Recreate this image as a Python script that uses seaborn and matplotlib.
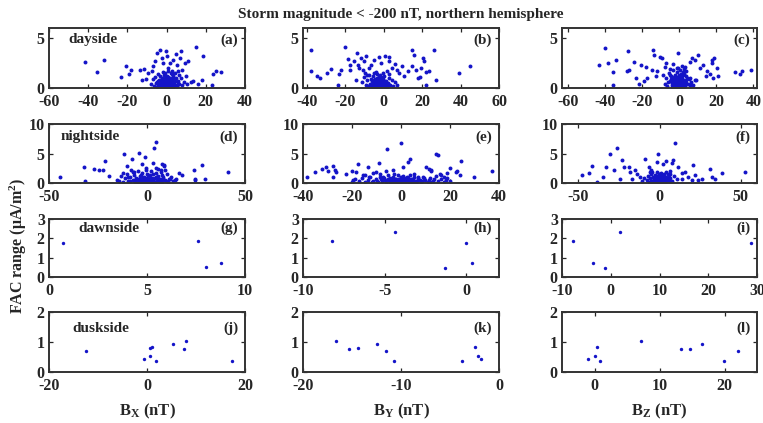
import numpy as np
import pandas as pd
import seaborn as sns
import matplotlib.pyplot as plt

# FAC range vs IMF components, storms < -200 nT, northern hemisphere
# each panel: list of (B, FAC range) points

# dayside
a_pts = [(-41.8, 2.6), (-32, 2.8), (-35.3, 1.57), (-20.5, 2.23), (-18, 1.8), (-19, 1.4), (-23.5, 1.07),
         (-13.7, 1.77), (-11.6, 1.9), (-12.8, 0.83), (-10.3, 0.9), (-9.4, 1.5), (-7.7, 1.67), (-6.8, 2.17),
         (-6, 2.67), (-5.1, 3.5), (-3.4, 3.77), (-2.6, 3.0), (-1.7, 2.5), (-0.5, 3.67), (0, 3.17), (0.8, 2.0),
         (1.7, 2.5), (2.5, 1.67), (3.4, 2.83), (4.7, 3.43), (5.4, 2.33), (6.8, 3.0), (7.6, 3.67), (5.9, 1.67),
         (8.1, 1.83), (9.3, 2.5), (11, 2.67), (9.8, 1.17), (12.7, 0.57), (15, 4.1), (18.4, 3.17), (17.9, 0.83),
         (23, 0.33), (23.8, 1.43), (25.2, 1.73), (27.7, 1.57), (13.6, 0.67), (16, 0.43),
         (-8.2, 0.4), (-7.1, 0.9), (-6.4, 0.2), (-5.8, 1.1), (-5.1, 0.6), (-4.6, 1.4), (-4.2, 0.3), (-3.7, 0.8),
         (-3.3, 1.2), (-2.9, 0.1), (-2.5, 0.5), (-2.2, 1.0), (-1.8, 0.7), (-1.5, 0.2), (-1.1, 1.3), (-0.8, 0.4),
         (-0.4, 0.9), (-0.1, 0.15), (0.3, 0.6), (0.6, 1.1), (0.9, 0.3), (1.3, 0.8), (1.6, 0.1), (2.0, 1.5),
         (2.4, 0.45), (2.7, 0.9), (3.1, 0.2), (3.5, 1.2), (3.9, 0.55), (4.4, 0.3), (4.8, 0.95), (5.3, 0.15),
         (5.9, 0.7), (6.5, 0.4), (7.2, 1.0), (8.0, 0.25), (9.1, 0.6), (10.4, 0.35), (-4.9, 0.05), (-3.0, 0.1),
         (-1.3, 0.05), (0.1, 0.08), (1.8, 0.05), (3.3, 0.12), (5.0, 0.2), (-2.0, 1.6), (0.7, 1.7), (2.6, 1.35),
         (-0.6, 1.5), (1.1, 0.5), (4.1, 1.45), (-5.5, 0.5), (6.2, 1.3), (-3.9, 0.3), (2.2, 0.75),
         (-3.5, 0.35), (-2.8, 0.65), (-1.9, 0.25), (-1.2, 0.6), (-0.3, 0.35), (0.4, 0.2), (1.0, 0.75),
         (1.5, 0.4), (2.3, 0.15), (2.9, 0.55), (3.6, 0.35), (4.3, 0.7), (-0.9, 1.0), (0.2, 1.2), (1.9, 1.0),
         (-2.4, 0.85), (3.2, 0.95), (-4.4, 0.7), (5.6, 0.45), (-1.6, 0.45), (0.8, 0.45), (2.0, 0.3),
         (-0.2, 0.55), (1.4, 0.15), (-1.0, 0.15)]

b_pts = [(-37.6, 3.77), (-38, 1.67), (-34.7, 1.23), (-33, 1.0), (-27.5, 1.9), (-29.7, 1.5), (-23.4, 1.43),
         (-22.4, 1.77), (-20.3, 4.1), (-24, 0.33), (-18.6, 2.9), (-17.3, 2.33), (-17.8, 1.77), (-15.3, 2.73),
         (-13.6, 2.33), (-12.7, 2.0), (-13.9, 3.5), (-11.9, 3.0), (-10.2, 2.67), (-9.3, 3.17), (-11, 1.83),
         (-8.8, 1.33), (-7.6, 2.0), (-6.4, 2.33), (-5.1, 2.83), (-2.5, 3.1), (-1.4, 2.5), (0.5, 3.17),
         (2.5, 3.1), (3.0, 2.67), (1.7, 1.67), (4.2, 2.0), (5.9, 2.43), (6.8, 1.83), (8.1, 1.5), (9.3, 2.17),
         (10.5, 1.23), (12.7, 1.67), (14.7, 3.77), (15.6, 3.33), (14.9, 2.17), (16.6, 1.83), (17.8, 1.0),
         (19.5, 2.0), (20.3, 3.0), (21.2, 2.67), (19, 1.1), (22, 1.57), (23.4, 1.73), (26.3, 3.77), (27.1, 0.83),
         (39, 1.5), (45, 2.17), (22, 0.33),
         (-11.5, 0.6), (-10.2, 1.1), (-9.4, 0.3), (-8.6, 0.8), (-7.9, 1.3), (-7.3, 0.4), (-6.8, 0.9),
         (-6.1, 0.2), (-5.7, 1.2), (-5.2, 0.6), (-4.8, 0.1), (-4.4, 0.9), (-4.0, 0.4), (-3.6, 1.4), (-3.3, 0.7),
         (-3.0, 0.2), (-2.7, 1.0), (-2.4, 0.5), (-2.1, 0.1), (-1.8, 0.8), (-1.5, 0.3), (-1.2, 1.1), (-0.9, 0.6),
         (-0.6, 0.15), (-0.3, 0.9), (0.0, 0.4), (0.4, 1.2), (0.8, 0.25), (1.2, 0.7), (1.7, 0.1), (2.2, 0.5),
         (2.8, 1.0), (3.4, 0.3), (4.1, 0.8), (4.9, 0.2), (5.8, 0.6), (-4.6, 0.55), (-3.9, 0.25), (-2.9, 0.45),
         (-2.2, 0.75), (-1.4, 0.05), (-3.4, 0.95), (-2.5, 0.3), (-1.9, 0.6), (-4.2, 1.6), (-5.0, 1.45),
         (-0.2, 1.5), (-6.5, 0.05), (1.0, 0.05), (-8.2, 0.15), (-2.0, 1.3), (3.0, 1.4), (-9.8, 1.5), (7.0, 0.3),
         (-14.5, 0.8),
         (-3.8, 0.6), (-3.1, 0.35), (-2.6, 0.75), (-2.0, 0.2), (-1.6, 0.45), (-1.0, 0.3), (-0.4, 0.6),
         (0.2, 0.15), (0.6, 0.5), (-4.3, 0.15), (-5.4, 0.35), (-3.7, 0.1), (-2.8, 0.6), (-1.2, 0.75),
         (-0.7, 0.95), (-2.3, 1.05), (-4.9, 0.8), (1.5, 0.4), (-3.2, 0.4), (-1.7, 0.15), (-2.6, 0.05),
         (0.3, 0.7), (-6.0, 0.7), (-0.1, 0.2), (2.6, 0.25)]

c_pts = [(-39.6, 4.0), (-42.9, 2.3), (-38.4, 2.5), (-33.9, 2.8), (-35.7, 1.55), (-35.7, 0.25), (-27.6, 3.7),
         (-28, 1.65), (-27, 1.8), (-24, 2.6), (-23.4, 1.0), (-20.4, 2.3), (-21.3, 0.35), (-18, 2.1), (-17.3, 1.0),
         (-18.6, 0.65), (-14, 3.75), (-13.2, 3.3), (-14.4, 1.8), (-12.6, 1.15), (-10.5, 3.1), (-9, 2.95),
         (-11.9, 1.65), (-7.7, 2.1), (-6.8, 2.45), (-5, 1.3), (-0.5, 3.45), (3.1, 2.1), (4, 1.65), (5.8, 2.6),
         (7.2, 2.95), (8.5, 2.8), (10.3, 3.3), (11.2, 1.95), (13, 2.3), (14.4, 1.2), (15.1, 1.65), (16.6, 1.4),
         (17.5, 2.8), (18.7, 2.95), (18, 2.45), (18.4, 1.0), (20.2, 1.95), (21, 1.2), (30, 1.55), (32.8, 1.4),
         (33.7, 1.65), (39, 1.75), (5.8, 1.0), (8.5, 0.8), (2, 1.3),
         (-7.8, 0.4), (-6.9, 1.0), (-6.2, 0.2), (-5.6, 1.5), (-5.0, 0.7), (-4.5, 1.2), (-4.0, 0.3), (-3.5, 0.9),
         (-3.1, 1.8), (-2.7, 0.5), (-2.3, 1.3), (-1.9, 0.1), (-1.5, 0.8), (-1.1, 1.6), (-0.7, 0.4), (-0.3, 1.1),
         (0.1, 0.2), (0.5, 0.7), (0.9, 1.4), (1.3, 0.3), (1.7, 1.0), (2.1, 0.55), (2.6, 1.9), (3.0, 0.15),
         (3.5, 0.8), (4.0, 1.2), (4.6, 0.4), (5.2, 0.9), (5.9, 0.25), (6.7, 0.6), (7.6, 0.3), (-2.0, 0.6),
         (-0.9, 0.35), (0.3, 0.95), (1.1, 0.05), (2.4, 0.05), (-3.8, 0.05), (-1.3, 1.95), (0.7, 1.75),
         (-4.8, 1.9), (1.9, 1.55), (-0.1, 0.65), (-2.9, 1.05), (3.8, 0.5), (-5.9, 0.55), (0.0, 1.3),
         (-1.7, 0.25), (2.9, 1.35), (-8.5, 1.3), (9.0, 0.8), (-3.3, 2.4), (1.5, 2.2), (-0.5, 2.0),
         (-1.6, 0.35), (-1.0, 0.7), (-0.5, 0.25), (0.0, 0.45), (0.6, 0.25), (1.0, 0.6), (1.5, 0.4), (2.0, 0.8),
         (-2.4, 0.35), (-3.0, 0.7), (-0.2, 0.9), (0.4, 1.15), (1.4, 1.25), (-1.8, 1.1), (2.5, 0.3), (-0.8, 0.1),
         (0.9, 0.1), (3.2, 0.55), (-2.5, 0.9), (-1.3, 0.55), (0.2, 0.05), (1.8, 0.2), (-3.9, 0.5), (4.4, 0.95),
         (-4.3, 0.9)]

# nightside
d_pts = [(-44.3, 1.0), (-31.9, 2.7), (-31.4, 0.3), (-26.9, 2.45), (-24.3, 2.15), (-22.6, 2.15), (-21.3, 3.7),
         (-19.3, 1.15), (-15.5, 0.45), (-11.7, 5.0), (-12.2, 1.7), (-10, 2.85), (-9.5, 1.0), (-7.4, 4.0),
         (-6.6, 1.9), (-4.1, 5.1), (-2.4, 3.3), (-0.7, 2.15), (-1, 4.4), (3.5, 5.85), (4.7, 6.9), (3, 3.4),
         (5.7, 2.45), (7.4, 3.3), (6.9, 2.15), (7.8, 1.3), (11.1, 0.75), (16.2, 1.7), (17.9, 1.3), (14.5, 0.55),
         (23.8, 2.15), (28, 3.1), (24.7, 0.75), (29.7, 0.6), (41.2, 1.9), (24.3, 0.45),
         (-14.5, 0.4), (-13.2, 1.2), (-12.0, 0.2), (-11.1, 0.8), (-10.3, 1.6), (-9.5, 0.3), (-8.7, 1.0),
         (-8.0, 2.2), (-7.3, 0.5), (-6.6, 1.4), (-6.0, 0.1), (-5.4, 0.9), (-4.8, 2.0), (-4.2, 0.4), (-3.7, 1.2),
         (-3.1, 0.2), (-2.6, 1.7), (-2.0, 0.6), (-1.5, 1.1), (-1.0, 0.1), (-0.5, 2.5), (0.0, 0.5), (0.5, 1.3),
         (1.0, 0.2), (1.5, 0.9), (2.0, 2.1), (2.5, 0.4), (3.0, 1.5), (3.5, 0.1), (4.0, 0.8), (4.6, 2.6),
         (5.2, 0.3), (5.8, 1.2), (6.4, 0.6), (7.0, 1.9), (7.6, 0.2), (8.2, 1.0), (8.8, 2.8), (9.4, 0.5),
         (10.0, 1.5), (10.7, 0.15), (11.5, 0.7), (12.4, 1.1), (13.4, 0.3), (14.6, 0.6), (-2.3, 0.05),
         (0.8, 0.05), (3.8, 0.1), (6.7, 0.05), (-5.0, 0.05), (-0.8, 0.8), (1.9, 0.6), (-3.5, 0.7), (4.4, 1.7),
         (9.0, 2.2), (8.5, 3.0), (-7.0, 1.8),
         (-2.0, 0.25), (-1.3, 0.45), (-0.6, 0.15), (0.3, 0.3), (1.2, 0.5), (2.2, 0.15), (3.2, 0.45), (4.2, 0.25),
         (5.5, 0.6), (-3.0, 0.45), (-4.5, 0.7), (-6.2, 0.55), (0.0, 0.9), (2.8, 0.8), (-1.8, 0.9), (6.0, 0.35),
         (7.2, 0.55), (-8.5, 0.35), (9.8, 0.3), (-0.2, 1.6), (1.7, 1.3), (4.8, 1.1), (-2.9, 1.4), (-5.5, 0.25),
         (8.0, 0.7)]

e_pts = [(-38.5, 1.1), (-35.1, 1.85), (-32.4, 2.4), (-30.8, 2.7), (-30, 2.0), (-27.7, 2.95), (-26.8, 2.25),
         (-27.7, 1.0), (-26.6, 1.85), (-22.3, 1.6), (-20, 2.0), (-19.6, 0.45), (-18.2, 1.85), (-17.6, 3.3),
         (-14.6, 1.3), (-13.5, 2.7), (-13.2, 1.0), (-11.5, 1.7), (-10.1, 1.85), (-8.8, 3.4), (-8.4, 1.45),
         (-5.7, 5.8), (-6.1, 2.1), (-3.4, 2.25), (-2.7, 1.55), (0, 6.85), (0.7, 2.7), (2.7, 3.5), (3.6, 4.05),
         (5.4, 1.55), (6.8, 1.0), (10.1, 2.65), (11.5, 2.4), (12.2, 2.0), (12.4, 2.2), (14.2, 4.9), (14.9, 4.8),
         (16.2, 1.3), (17.6, 1.0), (18.9, 1.65), (20, 2.55), (22.3, 1.85), (23, 2.1), (24.3, 3.65), (24, 1.3),
         (29.7, 1.1), (37.2, 2.1), (18.2, 0.45),
         (-20.0, 0.2), (-18.6, 0.6), (-17.1, 0.3), (-16.0, 0.9), (-14.8, 0.15), (-13.6, 0.55), (-12.5, 1.0),
         (-11.4, 0.3), (-10.3, 0.7), (-9.4, 0.15), (-8.5, 1.1), (-7.7, 0.4), (-6.9, 0.8), (-6.2, 0.1),
         (-5.5, 1.3), (-4.9, 0.5), (-4.3, 0.9), (-3.8, 0.2), (-3.2, 1.1), (-2.7, 0.4), (-2.2, 0.75),
         (-1.7, 0.1), (-1.2, 1.4), (-0.7, 0.5), (-0.2, 0.9), (0.3, 0.2), (0.8, 1.2), (1.3, 0.6), (1.8, 0.1),
         (2.3, 0.95), (2.9, 0.35), (3.5, 1.3), (4.1, 0.6), (4.8, 0.15), (5.5, 1.0), (6.3, 0.4), (7.1, 0.8),
         (8.0, 0.2), (8.9, 1.1), (9.9, 0.5), (10.9, 0.2), (11.9, 0.85), (13.0, 0.4), (14.1, 1.2), (15.2, 0.3),
         (16.4, 0.7), (17.6, 0.2), (18.8, 0.9), (20.0, 0.4), (-4.0, 0.6), (-2.0, 0.3), (0.0, 0.65), (2.0, 0.5),
         (4.0, 0.25), (-1.0, 0.05), (1.0, 0.05), (3.0, 0.8), (-3.0, 0.05), (6.0, 0.05), (-8.0, 0.6),
         (12.0, 0.1), (-15.5, 1.3), (16.0, 1.5),
         (-1.5, 0.35), (-0.9, 0.75), (-0.4, 0.2), (0.5, 0.45), (1.1, 0.8), (1.6, 0.3), (2.6, 0.6), (3.3, 0.15),
         (-2.5, 0.6), (-3.5, 0.45), (-4.6, 0.25), (-5.2, 0.75), (4.5, 0.4), (5.1, 0.65), (6.7, 0.3), (7.6, 0.55),
         (9.4, 0.8), (-6.5, 0.45), (-9.9, 0.4), (11.4, 0.55), (13.6, 0.7), (-12.0, 0.2), (-7.3, 1.0), (8.4, 0.35),
         (0.0, 1.0)]

f_pts = [(-47.6, 1.3), (-43.5, 1.7), (-41.4, 2.85), (-38.4, 0.15), (-34.7, 1.1), (-32.7, 2.7), (-30.2, 5.0),
         (-28.2, 2.15), (-26.1, 5.85), (-24.1, 0.75), (-23.1, 3.85), (-22, 2.7), (-19, 2.7), (-18, 1.85),
         (-17, 0.75), (-15, 2.25), (-13.9, 1.6), (-11.8, 1.0), (-8.8, 4.15), (-6.7, 2.7), (-4.7, 1.85),
         (-1.2, 5.0), (-1.6, 3.6), (2.4, 3.3), (4.1, 3.75), (6.5, 1.6), (7.6, 3.4), (8.6, 3.85), (9.6, 6.8),
         (11.6, 2.7), (13.7, 1.7), (15.7, 1.85), (17.8, 1.0), (20.8, 3.1), (21.8, 1.3), (19.8, 0.45),
         (23.9, 0.45), (25.9, 0.75), (31, 2.4), (32, 1.0), (34, 0.75), (38.2, 1.7), (52.4, 1.85), (13.7, 0.75),
         (-8.0, 0.5), (-7.1, 1.2), (-6.3, 0.2), (-5.6, 0.8), (-5.0, 1.6), (-4.4, 0.4), (-3.9, 1.0), (-3.3, 0.15),
         (-2.8, 1.4), (-2.3, 0.6), (-1.8, 1.9), (-1.3, 0.3), (-0.8, 0.9), (-0.3, 0.1), (0.2, 1.3), (0.7, 0.5),
         (1.2, 1.7), (1.7, 0.2), (2.2, 0.8), (2.7, 1.2), (3.3, 0.35), (3.9, 1.0), (4.5, 0.6), (5.2, 1.5),
         (5.9, 0.3), (6.7, 0.8), (7.6, 0.4), (-4.7, 0.05), (-2.0, 0.05), (0.5, 0.05), (3.0, 0.1), (-1.0, 0.55),
         (1.0, 0.9), (-3.5, 0.6), (2.5, 1.6), (-0.5, 1.6), (4.2, 1.9), (-6.0, 1.9), (0.0, 0.7), (-2.5, 1.0),
         (1.5, 1.1), (-9.5, 0.9), (9.0, 1.2), (-11.0, 0.4), (10.5, 0.6), (-5.3, 2.2), (6.3, 2.1),
         (-1.5, 0.4), (-0.9, 0.25), (-0.4, 0.7), (0.3, 0.35), (0.8, 0.15), (1.3, 0.6), (1.9, 0.4), (2.4, 0.2),
         (-2.6, 0.3), (-3.0, 0.8), (-1.6, 1.2), (0.4, 1.0), (1.8, 1.4), (-0.2, 0.45), (2.9, 0.7), (3.6, 0.2),
         (-4.1, 0.35), (4.9, 0.4), (-1.1, 0.1), (0.1, 1.6), (-2.1, 0.85), (1.1, 0.25), (5.6, 1.0), (-5.4, 0.35),
         (2.0, 0.95)]

# dawnside
g_pts = [(0.69, 1.78), (7.6, 1.87), (8.02, 0.5), (8.8, 0.7)]
h_pts = [(-8.2, 1.87), (-4.35, 2.32), (-1.3, 0.48), (0.0, 1.78), (0.33, 0.7)]
i_pts = [(-7.7, 1.87), (-3.65, 0.7), (-1.2, 0.48), (1.93, 2.32), (28.8, 1.78)]

# duskside
j_pts = [(-12.5, 0.71), (-0.55, 0.43), (0.7, 0.55), (0.7, 0.79), (1.0, 0.82), (1.9, 0.38), (5.3, 0.94),
         (7.9, 1.03), (7.5, 0.77), (17.4, 0.38)]
k_pts = [(-16.6, 1.03), (-15.3, 0.77), (-14.4, 0.79), (-12.5, 0.94), (-11.5, 0.71), (-10.7, 0.38),
         (-3.8, 0.38), (-2.4, 0.84), (-2.1, 0.55), (-1.8, 0.45)]
l_pts = [(-0.93, 0.45), (0.0, 0.55), (0.36, 0.84), (0.78, 0.38), (7.1, 1.03), (13.3, 0.77), (14.7, 0.77),
         (16.5, 0.94), (19.9, 0.38), (22.1, 0.71)]

panel_tags = ['(a)', '(b)', '(c)', '(d)', '(e)', '(f)', '(g)', '(h)', '(i)', '(j)', '(k)', '(l)']
row_names = ['dayside', 'nightside', 'dawnside', 'duskside']
col_labels = [r'B$_\mathregular{X}$ (nT)', r'B$_\mathregular{Y}$ (nT)', r'B$_\mathregular{Z}$ (nT)']

all_pts = [a_pts, b_pts, c_pts, d_pts, e_pts, f_pts, g_pts, h_pts, i_pts, j_pts, k_pts, l_pts]

xlims = [(-60, 40), (-42, 60), (-63, 42),
         (-50, 50), (-40, 40), (-60, 60),
         (0, 10), (-10, 2), (-10, 30),
         (-20, 20), (-20, 0), (-5, 25)]
xticks = [[-60, -40, -20, 0, 20, 40], [-40, -20, 0, 20, 40, 60], [-60, -40, -20, 0, 20, 40],
          [-50, 0, 50], [-40, -20, 0, 20, 40], [-50, 0, 50],
          [0, 5, 10], [-10, -5, 0], [-10, 0, 10, 20, 30],
          [-20, 0, 20], [-20, -10, 0], [0, 10, 20]]
ylims = [(0, 6), (0, 10), (0, 3), (0, 2)]
yticks = [[0, 5], [0, 5, 10], [0, 1, 2, 3], [0, 1, 2]]

sns.set_style('ticks')
plt.rcParams['font.family'] = ['Liberation Serif', 'DejaVu Serif']
plt.rcParams['font.weight'] = 'bold'
plt.rcParams['axes.unicode_minus'] = False
plt.rcParams['mathtext.fontset'] = 'custom'
plt.rcParams['mathtext.rm'] = 'Liberation Serif:bold'
plt.rcParams['mathtext.it'] = 'Liberation Serif:italic:bold'
plt.rcParams['mathtext.bf'] = 'Liberation Serif:bold'

fig = plt.figure(figsize=(7.63, 4.23), dpi=100)

W, H = 763, 423
col_px = [(49, 196), (303, 196), (562, 195)]
row_px = [(28, 60), (124, 59), (219, 58), (312, 60)]
name_pos = [(0.10, 0.80), (0.06, 0.78), (0.15, 0.84), (0.12, 0.73)]
dot_color = '#1414C8'

for r in range(4):
    for c in range(3):
        k = r * 3 + c
        left, w = col_px[c]
        top, h = row_px[r]
        ax = fig.add_axes([left / W, 1 - (top + h) / H, w / W, h / H])
        df = pd.DataFrame(all_pts[k], columns=['B', 'FAC'])
        size = 8 if r < 2 else 6
        sns.scatterplot(data=df, x='B', y='FAC', ax=ax, s=size, color=dot_color,
                        linewidth=0, marker='o')
        ax.set_xlim(*xlims[k])
        ax.set_ylim(*ylims[r])
        ax.set_xticks(xticks[k])
        ax.set_yticks(yticks[r])
        ax.set_xlabel('')
        ax.set_ylabel('')
        ax.tick_params(direction='in', top=True, right=True, length=3, width=0.9,
                       labelsize=11.5)
        ax.tick_params(axis='x', pad=4)
        ax.tick_params(axis='y', pad=3)
        for lab in ax.get_xticklabels() + ax.get_yticklabels():
            lab.set_fontweight('bold')
        for sp in ax.spines.values():
            sp.set_linewidth(1.4)
            sp.set_color('#333333')
        ax.text(0.965, name_pos[r][1], panel_tags[k], transform=ax.transAxes,
                ha='right', va='center', fontsize=11, fontweight='bold')
        if c == 0:
            ax.text(name_pos[r][0], name_pos[r][1], row_names[r], transform=ax.transAxes,
                    ha='left', va='center', fontsize=11, fontweight='bold')
        if r == 3:
            ax.set_xlabel(col_labels[c], fontsize=12, fontweight='bold', labelpad=6)

fig.text(0.525, 0.965, 'Storm magnitude < -200 nT, northern hemisphere',
         ha='center', va='center', fontsize=11, fontweight='bold')
fig.text(0.024, 0.42, 'FAC range (μA/m$^2$)', rotation=90, ha='center', va='center',
         fontsize=11.5, fontweight='bold')

plt.savefig('out.png', dpi=100)
